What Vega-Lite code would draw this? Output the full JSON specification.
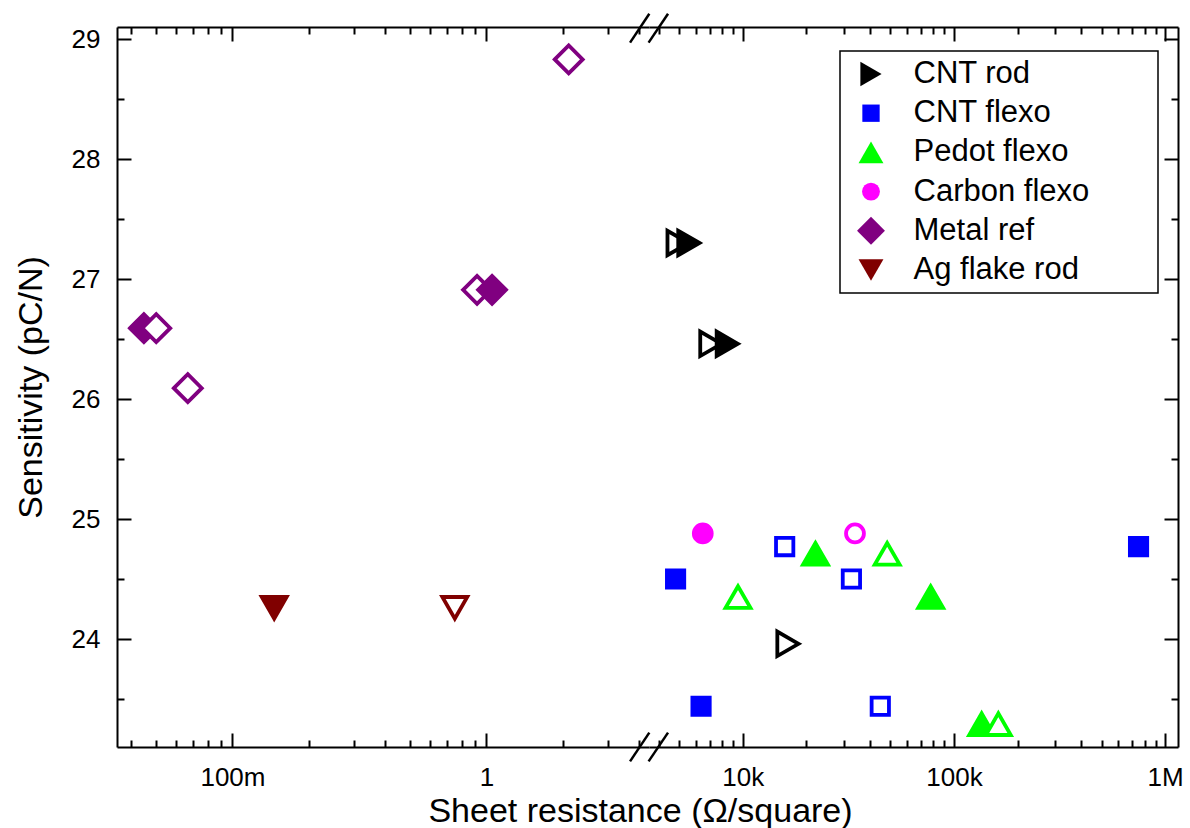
{
  "$schema": "https://vega.github.io/schema/vega-lite/v6.json",
  "padding": {"left": 14, "top": 12, "right": 5, "bottom": 5},
  "background": "white",
  "datasets": {
    "left": [
      {"series": "Metal ref", "variant": "filled", "R": 0.0448, "S": 26.59},
      {"series": "Metal ref", "variant": "open", "R": 0.0501, "S": 26.59},
      {"series": "Metal ref", "variant": "open", "R": 0.0667, "S": 26.09},
      {"series": "Metal ref", "variant": "open", "R": 0.919, "S": 26.91},
      {"series": "Metal ref", "variant": "filled", "R": 1.053, "S": 26.91},
      {"series": "Metal ref", "variant": "open", "R": 2.11, "S": 28.83},
      {"series": "Ag flake rod", "variant": "filled", "R": 0.146, "S": 24.26},
      {"series": "Ag flake rod", "variant": "open", "R": 0.751, "S": 24.26}
    ],
    "right": [
      {"series": "CNT rod", "variant": "open", "R": 4943, "S": 27.30},
      {"series": "CNT rod", "variant": "filled", "R": 5558, "S": 27.30},
      {"series": "CNT rod", "variant": "open", "R": 7065, "S": 26.46},
      {"series": "CNT rod", "variant": "filled", "R": 8450, "S": 26.46},
      {"series": "CNT rod", "variant": "open", "R": 16370, "S": 23.96},
      {"series": "CNT flexo", "variant": "filled", "R": 4810, "S": 24.50},
      {"series": "CNT flexo", "variant": "open", "R": 15800, "S": 24.77},
      {"series": "CNT flexo", "variant": "open", "R": 32700, "S": 24.50},
      {"series": "CNT flexo", "variant": "filled", "R": 748000, "S": 24.77},
      {"series": "CNT flexo", "variant": "filled", "R": 6350, "S": 23.44},
      {"series": "CNT flexo", "variant": "open", "R": 44800, "S": 23.44},
      {"series": "Pedot flexo", "variant": "open", "R": 9500, "S": 24.35},
      {"series": "Pedot flexo", "variant": "filled", "R": 22100, "S": 24.71},
      {"series": "Pedot flexo", "variant": "open", "R": 48300, "S": 24.71},
      {"series": "Pedot flexo", "variant": "filled", "R": 77600, "S": 24.35},
      {"series": "Pedot flexo", "variant": "filled", "R": 135200, "S": 23.29},
      {"series": "Pedot flexo", "variant": "open", "R": 162200, "S": 23.29},
      {"series": "Carbon flexo", "variant": "filled", "R": 6470, "S": 24.88},
      {"series": "Carbon flexo", "variant": "open", "R": 34000, "S": 24.88}
    ]
  },
  "spacing": 0,
  "bounds": "flush",
  "resolve": {"scale": {"x": "independent", "y": "independent", "fill": "shared", "stroke": "shared", "shape": "shared", "size": "shared"}},
  "hconcat": [
    {
      "width": 532,
      "height": 720,
      "resolve": {"axis": {"x": "independent", "y": "independent"}},
      "layer": [
        {
          "data": {"name": "left"},
          "mark": {"type": "point", "opacity": 1, "strokeWidth": 3.8},
          "encoding": {
            "x": {"field": "R", "type": "quantitative", "scale": {"type": "log", "domain": [0.0351, 4.37], "nice": false},
              "axis": {"orient": "bottom", "values": [0.1, 1], "labelExpr": "datum.value < 0.5 ? '100m' : '1'", "tickSize": -14, "labelPadding": 52, "labelBaseline": "alphabetic", "title": "Sheet resistance (Ω/square)", "titleX": 523, "titleY": 74, "titleBaseline": "alphabetic", "titleAlign": "center"}},
            "y": {"field": "S", "type": "quantitative", "scale": {"type": "linear", "domain": [23.1, 29.1], "nice": false, "zero": false},
              "axis": {"orient": "left", "values": [24, 25, 26, 27, 28, 29], "tickSize": -14, "labelPadding": 31, "title": "Sensitivity (pC/N)", "titleX": -76, "titleY": 360, "titleBaseline": "alphabetic", "titleAlign": "center", "titleAngle": 270}},
            "shape": {"field": "series", "type": "nominal",
              "scale": {"domain": ["CNT rod", "CNT flexo", "Pedot flexo", "Carbon flexo", "Metal ref", "Ag flake rod"], "range": ["triangle-right", "square", "triangle-up", "circle", "diamond", "triangle-down"]},
              "legend": {"title": " ", "titleOrient": "right", "titlePadding": 61, "titleFontSize": 10, "orient": "none", "legendX": 723, "legendY": 24, "strokeColor": "black", "fillColor": "white", "padding": 7.5, "symbolOffset": 8, "labelOffset": 27, "rowPadding": 7.2, "labelFontSize": 31, "labelFont": "Liberation Sans", "labelColor": "black", "symbolStrokeWidth": 0, "labelLimit": 400}},
            "fill": {"condition": {"test": "datum.variant === 'open'", "value": "white"}, "field": "series", "type": "nominal",
              "scale": {"domain": ["CNT rod", "CNT flexo", "Pedot flexo", "Carbon flexo", "Metal ref", "Ag flake rod"], "range": ["#000000", "#0000FF", "#00FF00", "#FF00FF", "#800080", "#800000"]}},
            "stroke": {"field": "series", "type": "nominal",
              "scale": {"domain": ["CNT rod", "CNT flexo", "Pedot flexo", "Carbon flexo", "Metal ref", "Ag flake rod"], "range": ["#000000", "#0000FF", "#00FF00", "#FF00FF", "#800080", "#800000"]}},
            "size": {"field": "series", "type": "nominal",
              "scale": {"type": "ordinal", "domain": ["CNT rod", "CNT flexo", "Pedot flexo", "Carbon flexo", "Metal ref", "Ag flake rod"], "range": [600, 300, 620, 320, 780, 620]}}
          }
        },
        {
          "data": {"values": [{}]},
          "mark": {"type": "rule", "color": "black", "strokeWidth": 2.5},
          "encoding": {
            "x": {"datum": 3.68, "type": "quantitative", "scale": {"type": "log", "domain": [0.0351, 4.37], "nice": false},
              "axis": {"orient": "bottom", "values": [0.04, 0.05, 0.06, 0.07, 0.08, 0.09, 0.2, 0.3, 0.4, 0.5, 0.6, 0.7, 0.8, 0.9, 2, 3, 4], "labels": false, "domain": false, "tickSize": -7, "title": null}},
            "x2": {"datum": 4.383},
            "y": {"datum": 22.98, "type": "quantitative", "scale": {"type": "linear", "domain": [23.1, 29.1], "nice": false, "zero": false},
              "axis": {"orient": "left", "values": [23.5, 24.5, 25.5, 26.5, 27.5, 28.5], "labels": false, "domain": false, "tickSize": -7, "title": null}},
            "y2": {"datum": 23.22}
          }
        },
        {
          "data": {"values": [{}]},
          "mark": {"type": "rule", "color": "black", "strokeWidth": 2.5},
          "encoding": {
            "x": {"datum": 3.68, "type": "quantitative", "scale": {"type": "log", "domain": [0.0351, 4.37], "nice": false},
              "axis": {"orient": "top", "values": [0.1, 1], "labels": false, "tickSize": -14, "title": null}},
            "x2": {"datum": 4.383},
            "y": {"datum": 28.97, "type": "quantitative", "scale": {"type": "linear", "domain": [23.1, 29.1], "nice": false, "zero": false}, "axis": null},
            "y2": {"datum": 29.21}
          }
        },
        {
          "data": {"name": "left"},
          "mark": {"type": "point", "opacity": 0},
          "encoding": {
            "x": {"field": "R", "type": "quantitative", "scale": {"type": "log", "domain": [0.0351, 4.37], "nice": false},
              "axis": {"orient": "top", "values": [0.04, 0.05, 0.06, 0.07, 0.08, 0.09, 0.2, 0.3, 0.4, 0.5, 0.6, 0.7, 0.8, 0.9, 2, 3, 4], "labels": false, "domain": false, "tickSize": -7, "title": null}},
            "y": {"field": "S", "type": "quantitative", "scale": {"type": "linear", "domain": [23.1, 29.1], "nice": false, "zero": false}, "axis": null}
          }
        }
      ]
    },
    {
      "width": 529,
      "height": 720,
      "resolve": {"axis": {"x": "independent", "y": "independent"}},
      "layer": [
        {
          "data": {"name": "right"},
          "mark": {"type": "point", "opacity": 1, "strokeWidth": 3.8},
          "encoding": {
            "x": {"field": "R", "type": "quantitative", "scale": {"type": "log", "domain": [3600, 1150000], "nice": false},
              "axis": {"orient": "bottom", "values": [10000, 100000, 1000000], "labelExpr": "datum.value < 50000 ? '10k' : datum.value < 500000 ? '100k' : '1M'", "tickSize": -14, "labelPadding": 52, "labelBaseline": "alphabetic", "title": null}},
            "y": {"field": "S", "type": "quantitative", "scale": {"type": "linear", "domain": [23.1, 29.1], "nice": false, "zero": false},
              "axis": {"orient": "right", "values": [24, 25, 26, 27, 28, 29], "labels": false, "tickSize": -14, "title": null}},
            "shape": {"field": "series", "type": "nominal",
              "scale": {"domain": ["CNT rod", "CNT flexo", "Pedot flexo", "Carbon flexo", "Metal ref", "Ag flake rod"], "range": ["triangle-right", "square", "triangle-up", "circle", "diamond", "triangle-down"]},
              "legend": {"title": " ", "titleOrient": "right", "titlePadding": 61, "titleFontSize": 10, "orient": "none", "legendX": 723, "legendY": 24, "strokeColor": "black", "fillColor": "white", "padding": 7.5, "symbolOffset": 8, "labelOffset": 27, "rowPadding": 7.2, "labelFontSize": 31, "labelFont": "Liberation Sans", "labelColor": "black", "symbolStrokeWidth": 0, "labelLimit": 400}},
            "fill": {"condition": {"test": "datum.variant === 'open'", "value": "white"}, "field": "series", "type": "nominal",
              "scale": {"domain": ["CNT rod", "CNT flexo", "Pedot flexo", "Carbon flexo", "Metal ref", "Ag flake rod"], "range": ["#000000", "#0000FF", "#00FF00", "#FF00FF", "#800080", "#800000"]}},
            "stroke": {"field": "series", "type": "nominal",
              "scale": {"domain": ["CNT rod", "CNT flexo", "Pedot flexo", "Carbon flexo", "Metal ref", "Ag flake rod"], "range": ["#000000", "#0000FF", "#00FF00", "#FF00FF", "#800080", "#800000"]}},
            "size": {"field": "series", "type": "nominal",
              "scale": {"type": "ordinal", "domain": ["CNT rod", "CNT flexo", "Pedot flexo", "Carbon flexo", "Metal ref", "Ag flake rod"], "range": [600, 300, 620, 320, 780, 620]}}
          }
        },
        {
          "data": {"values": [{}]},
          "mark": {"type": "rule", "color": "black", "strokeWidth": 2.5},
          "encoding": {
            "x": {"datum": 3584, "type": "quantitative", "scale": {"type": "log", "domain": [3600, 1150000], "nice": false},
              "axis": {"orient": "bottom", "values": [4000, 5000, 6000, 7000, 8000, 9000, 20000, 30000, 40000, 50000, 60000, 70000, 80000, 90000, 200000, 300000, 400000, 500000, 600000, 700000, 800000, 900000], "labels": false, "domain": false, "tickSize": -7, "title": null}},
            "x2": {"datum": 4430},
            "y": {"datum": 22.98, "type": "quantitative", "scale": {"type": "linear", "domain": [23.1, 29.1], "nice": false, "zero": false},
              "axis": {"orient": "right", "values": [23.5, 24.5, 25.5, 26.5, 27.5, 28.5], "labels": false, "domain": false, "tickSize": -7, "title": null}},
            "y2": {"datum": 23.22}
          }
        },
        {
          "data": {"values": [{}]},
          "mark": {"type": "rule", "color": "black", "strokeWidth": 2.5},
          "encoding": {
            "x": {"datum": 3584, "type": "quantitative", "scale": {"type": "log", "domain": [3600, 1150000], "nice": false},
              "axis": {"orient": "top", "values": [10000, 100000, 1000000], "labels": false, "tickSize": -14, "title": null}},
            "x2": {"datum": 4430},
            "y": {"datum": 28.97, "type": "quantitative", "scale": {"type": "linear", "domain": [23.1, 29.1], "nice": false, "zero": false}, "axis": null},
            "y2": {"datum": 29.21}
          }
        },
        {
          "data": {"name": "right"},
          "mark": {"type": "point", "opacity": 0},
          "encoding": {
            "x": {"field": "R", "type": "quantitative", "scale": {"type": "log", "domain": [3600, 1150000], "nice": false},
              "axis": {"orient": "top", "values": [4000, 5000, 6000, 7000, 8000, 9000, 20000, 30000, 40000, 50000, 60000, 70000, 80000, 90000, 200000, 300000, 400000, 500000, 600000, 700000, 800000, 900000], "labels": false, "domain": false, "tickSize": -7, "title": null}},
            "y": {"field": "S", "type": "quantitative", "scale": {"type": "linear", "domain": [23.1, 29.1], "nice": false, "zero": false}, "axis": null}
          }
        }
      ]
    }
  ],
  "config": {
    "font": "Liberation Sans",
    "view": {"stroke": null},
    "legend": {"strokeWidth": 1.5},
    "axis": {"domainColor": "black", "domainWidth": 2, "tickColor": "black", "tickWidth": 2, "grid": false, "labelFont": "Liberation Sans", "labelFontSize": 26, "labelColor": "black", "titleFont": "Liberation Sans", "titleFontSize": 34, "titleColor": "black", "titleFontWeight": "normal", "labelFlush": false, "labelOverlap": false}
  }
}
